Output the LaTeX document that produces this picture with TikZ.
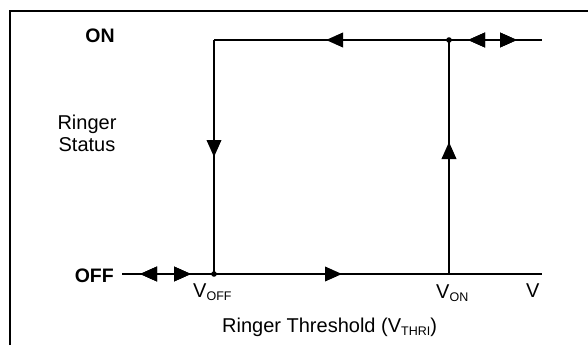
\documentclass[tikz,border=0pt]{standalone}
\usepackage{fontspec}
\setmainfont{Liberation Sans}
\usetikzlibrary{arrows.meta,decorations.markings}

\newcommand{\lo}[1]{\raisebox{-3.5pt}{\fontsize{12.5}{12.5}\selectfont #1}}

\tikzset{
  frame/.style={line width=2.5pt},
  curve/.style={line width=2.1pt},
  lbl/.style={font=\fontsize{20}{22}\selectfont, inner sep=0pt},
  state/.style={lbl, font=\fontsize{19.5}{22}\selectfont\bfseries},
  tipat/.style={postaction={decorate}, decoration={markings,
    mark=at position #1 with {\arrow{Triangle[length=17pt,width=14.5pt]}}}},
  tipback/.style={postaction={decorate}, decoration={markings,
    mark=at position #1 with {\arrowreversed{Triangle[length=17pt,width=14.5pt]}}}}
}

\begin{document}
\begin{tikzpicture}[x=1pt, y=-1pt]
\useasboundingbox (0,0) rectangle (588,345);

% frame
\draw[frame] (10,345) -- (10,11) -- (588,11);

% corners of the loop
\coordinate (offL) at (122,274);
\coordinate (voff) at (214,274);
\coordinate (von) at (449,274);
\coordinate (offR) at (542,274);
\coordinate (onL) at (214,40);
\coordinate (onV) at (449,40);
\coordinate (onR) at (542,40);

% hysteresis loop
\draw[curve, tipback=18pt, tipat=69pt] (offL) -- (voff);
\draw[curve, tipat=128pt] (voff) -- (offR);
\draw[curve, tipat=132pt] (von) -- (onV);
\draw[curve, tipat=123pt] (onV) -- (onL);
\draw[curve, tipat=117pt] (onL) -- (voff);
\draw[curve, tipback=19pt, tipat=68pt] (onV) -- (onR);

\fill (onV) circle (2.8);
\fill (voff) circle (2.8);

% labels
\node[state, anchor=base] (on) at (100,42) {ON};
\node[state, anchor=base east] (off) at (114,282) {OFF};
\node[lbl, anchor=base, align=center] (status) at (87,151) {Ringer\\Status};
\node[lbl, anchor=base west] (vofflbl) at (193,297) {V\lo{OFF}};
\node[lbl, anchor=base west] (vonlbl) at (436,298) {V\lo{ON}};
\node[lbl, anchor=base west] (vlbl) at (526,297) {V};
\node[lbl, anchor=base west] (axis) at (222,332) {Ringer Threshold (V\lo{THRI})};
\end{tikzpicture}
\end{document}
